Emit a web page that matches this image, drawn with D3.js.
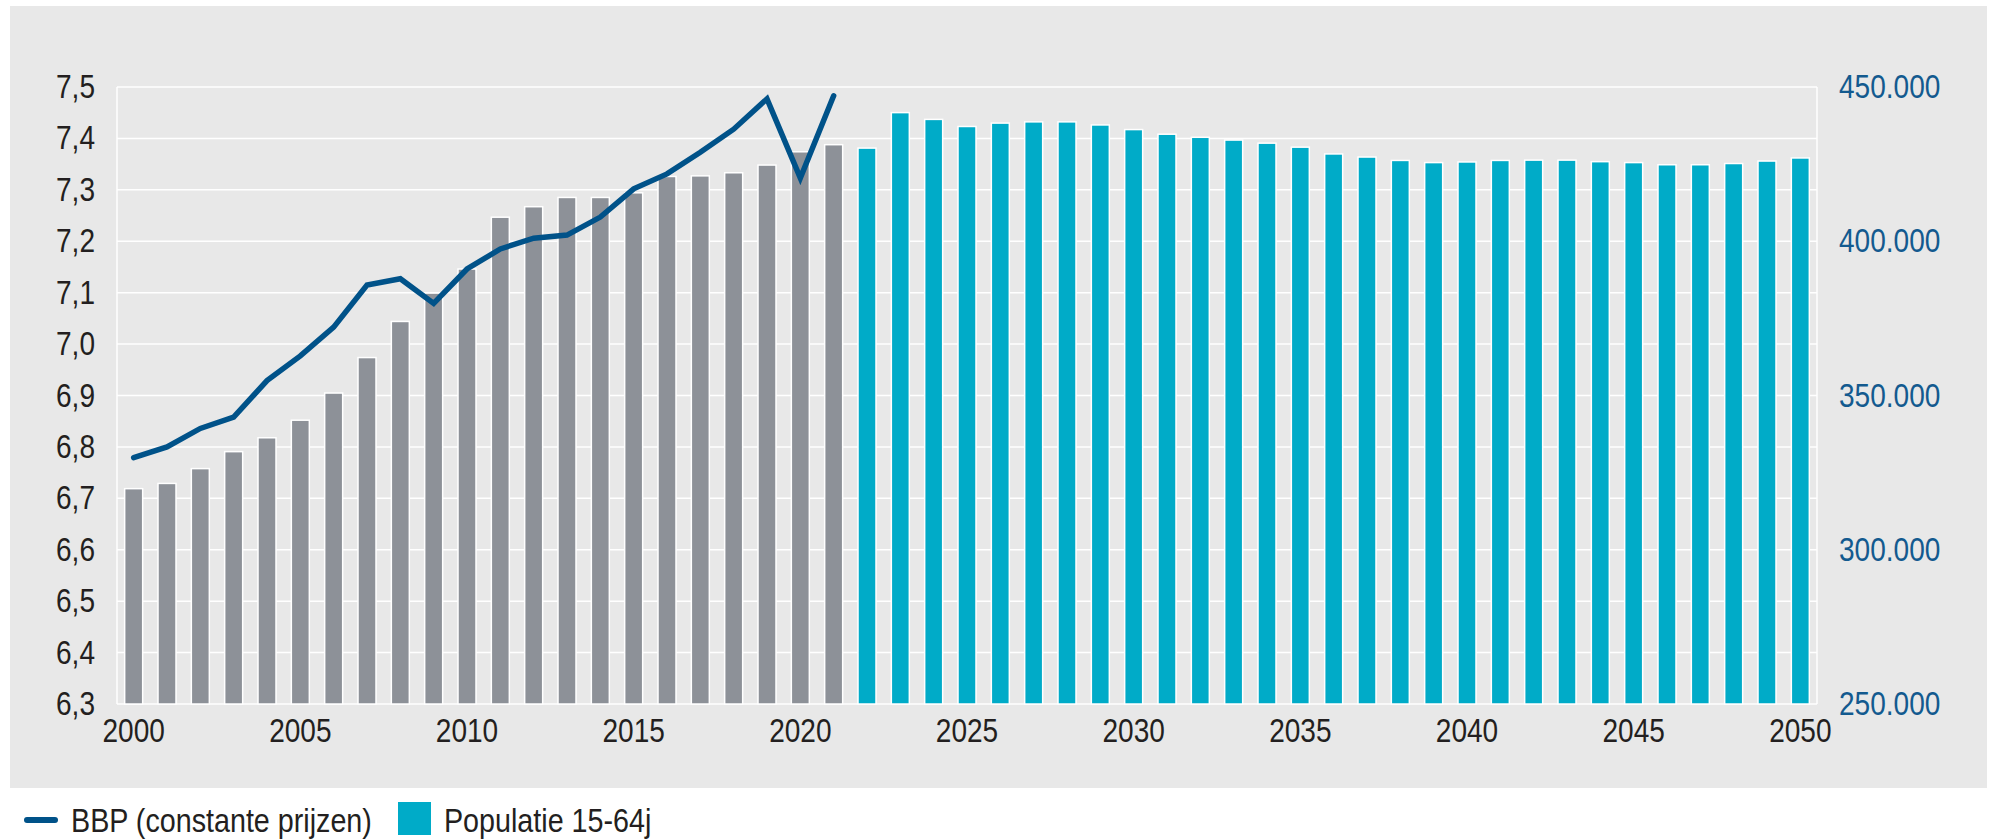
<!DOCTYPE html>
<html>
<head>
<meta charset="utf-8">
<script src="https://cdn.jsdelivr.net/npm/d3@7/dist/d3.min.js"></script>
<style>
body { margin: 0; background: #ffffff; }
svg text { font-family: "Liberation Sans", Arial, sans-serif; }
</style>
</head>
<body>
<script>
// jaren (categorieen)
var jaren = [2000, 2001, 2002, 2003, 2004, 2005, 2006, 2007, 2008, 2009,
             2010, 2011, 2012, 2013, 2014, 2015, 2016, 2017, 2018, 2019,
             2020, 2021, 2022, 2023, 2024, 2025, 2026, 2027, 2028, 2029,
             2030, 2031, 2032, 2033, 2034, 2035, 2036, 2037, 2038, 2039,
             2040, 2041, 2042, 2043, 2044, 2045, 2046, 2047, 2048, 2049, 2050];

// populatie 15-64j (rechter as)
var populatie = [319800, 321500, 326300, 331800, 336300, 342000, 350800, 362300, 374000, 383200,
                 391000, 407800, 411200, 414200, 414200, 415700, 421000, 421200, 422200, 424700,
                 429000, 431300, 430200, 441700, 439500, 437200, 438300, 438700, 438700, 437700,
                 436200, 434700, 433700, 432800, 431800, 430500, 428300, 427300, 426200, 425500,
                 425700, 426200, 426300, 426300, 425800, 425500, 424800, 424800, 425200, 426000,
                 427000];
var laatsteWaargenomenJaar = 2021;

// BBP constante prijzen (linker as), 2000-2021
var bbpJaren = [2000, 2001, 2002, 2003, 2004, 2005, 2006, 2007, 2008, 2009, 2010,
                2011, 2012, 2013, 2014, 2015, 2016, 2017, 2018, 2019, 2020, 2021];
var bbp = [6.779, 6.800, 6.836, 6.858, 6.929, 6.977, 7.033, 7.115, 7.127, 7.079, 7.146,
           7.185, 7.206, 7.212, 7.247, 7.302, 7.331, 7.373, 7.418, 7.477, 7.323, 7.483];

var linkerTicks = [6.3, 6.4, 6.5, 6.6, 6.7, 6.8, 6.9, 7.0, 7.1, 7.2, 7.3, 7.4, 7.5];
var rechterTicks = [250000, 300000, 350000, 400000, 450000];
var xTicks = [2000, 2005, 2010, 2015, 2020, 2025, 2030, 2035, 2040, 2045, 2050];

var legendeLabels = ["BBP (constante prijzen)", "Populatie 15-64j"];

var W = 1997, H = 839;
var plot = {left: 117, right: 1817, top: 87, bottom: 704};
var fontSize = 33;

var svg = d3.select("body").append("svg")
    .attr("width", W)
    .attr("height", H);

// smalle letter nadoen: tekst horizontaal samendrukken, x-anker blijft staan
function smal(sel, sx) {
    sel.each(function () {
        var t = d3.select(this);
        var x0 = +t.attr("x") || 0;
        t.attr("x", x0 / sx).attr("transform", "scale(" + sx + ",1)");
    });
}

// grijze achtergrond
svg.append("rect")
    .attr("x", 10).attr("y", 6)
    .attr("width", 1977).attr("height", 782)
    .attr("fill", "#e8e8e8");

var x = d3.scaleBand()
    .domain(jaren)
    .range([plot.left, plot.right])
    .paddingInner(0.46)
    .paddingOuter(0.23);

var yL = d3.scaleLinear().domain([6.3, 7.5]).range([plot.bottom, plot.top]);
var yR = d3.scaleLinear().domain([250000, 450000]).range([plot.bottom, plot.top]);

// rasterlijnen
svg.append("g").selectAll("line")
    .data(linkerTicks).enter()
    .append("line")
    .attr("x1", plot.left).attr("x2", plot.right)
    .attr("y1", function (d) { return yL(d); })
    .attr("y2", function (d) { return yL(d); })
    .attr("stroke", "#ffffff")
    .attr("stroke-width", 1.5);

svg.append("g").selectAll("line")
    .data([plot.left, plot.right]).enter()
    .append("line")
    .attr("x1", function (d) { return d; }).attr("x2", function (d) { return d; })
    .attr("y1", plot.top).attr("y2", plot.bottom)
    .attr("stroke", "#ffffff")
    .attr("stroke-width", 1.5);

// staven
svg.append("g").selectAll("rect")
    .data(populatie).enter()
    .append("rect")
    .attr("x", function (d, i) { return x(jaren[i]); })
    .attr("y", function (d) { return yR(d); })
    .attr("width", x.bandwidth())
    .attr("height", function (d) { return plot.bottom - yR(d); })
    .attr("fill", function (d, i) {
        return jaren[i] <= laatsteWaargenomenJaar ? "#8d9198" : "#00abc8";
    })
    .attr("stroke", "#ffffff")
    .attr("stroke-width", 1.5);

// lijn BBP
var lijn = d3.line()
    .x(function (d, i) { return x(bbpJaren[i]) + x.bandwidth() / 2; })
    .y(function (d) { return yL(d); });

svg.append("path")
    .attr("d", lijn(bbp))
    .attr("fill", "none")
    .attr("stroke", "#005289")
    .attr("stroke-width", 5.5)
    .attr("stroke-linecap", "round")
    .attr("stroke-linejoin", "miter");

// assen
var fmtL = function (d) { return d3.format(".1f")(d).replace(".", ","); };
var fmtR = function (d) { return d3.format(",")(d).replace(/,/g, "."); };

var gL = svg.append("g")
    .attr("transform", "translate(" + plot.left + ",0)")
    .call(d3.axisLeft(yL).tickValues(linkerTicks).tickFormat(fmtL).tickSize(0).tickPadding(22));

var gR = svg.append("g")
    .attr("transform", "translate(" + plot.right + ",0)")
    .call(d3.axisRight(yR).tickValues(rechterTicks).tickFormat(fmtR).tickSize(0).tickPadding(22));

var gX = svg.append("g")
    .attr("transform", "translate(0," + plot.bottom + ")")
    .call(d3.axisBottom(x).tickValues(xTicks).tickSize(0).tickPadding(15));

[gL, gR, gX].forEach(function (g) {
    g.select(".domain").remove();
    g.selectAll("text").attr("font-size", fontSize).attr("font-family", null);
    smal(g.selectAll("text"), 0.85);
});
gL.selectAll("text").attr("fill", "#231f20");
gX.selectAll("text").attr("fill", "#231f20");
gR.selectAll("text").attr("fill", "#135a8f");

// legenda
var leg = svg.append("g");
leg.append("line")
    .attr("x1", 27).attr("x2", 55)
    .attr("y1", 820).attr("y2", 820)
    .attr("stroke", "#005289")
    .attr("stroke-width", 6)
    .attr("stroke-linecap", "round");
leg.append("text")
    .attr("class", "legtekst")
    .attr("x", 71).attr("y", 832)
    .text(legendeLabels[0]);
leg.append("rect")
    .attr("x", 398).attr("y", 802)
    .attr("width", 33).attr("height", 33)
    .attr("fill", "#00abc8");
leg.append("text")
    .attr("class", "legtekst")
    .attr("x", 444).attr("y", 832)
    .text(legendeLabels[1]);
leg.selectAll(".legtekst")
    .attr("font-size", fontSize)
    .attr("fill", "#231f20");
smal(leg.selectAll(".legtekst"), 0.87);
</script>
</body>
</html>
